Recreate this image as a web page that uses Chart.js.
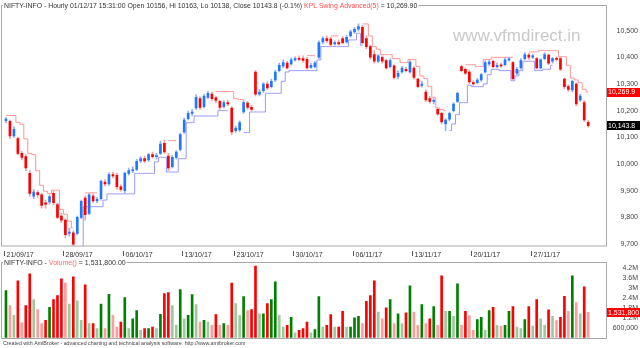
<!DOCTYPE html>
<html>
<head>
<meta charset="utf-8">
<script src="https://cdn.jsdelivr.net/npm/chart.js@4.4.0/dist/chart.umd.min.js"></script>
<style>
  html, body { margin: 0; padding: 0; background: #fff; }
  #wrap { position: relative; width: 640px; height: 348px; overflow: hidden; }
  #wrap canvas { position: absolute; left: 0; top: 0; }
</style>
</head>
<body>
<div id="wrap">
  <canvas id="priceChart" width="640" height="348"></canvas>
  <canvas id="volumeChart" width="640" height="348"></canvas>
</div>
<script>
// trading days on the chart, 3 bars a day (muhurat session only one)
const days = ['21/09/17','22/09/17','25/09/17','26/09/17','27/09/17','28/09/17','29/09/17',
  '03/10/17','04/10/17','05/10/17','06/10/17','09/10/17','10/10/17','11/10/17','12/10/17','13/10/17',
  '16/10/17','17/10/17','18/10/17','19/10/17','23/10/17','24/10/17','25/10/17','26/10/17','27/10/17',
  '30/10/17','31/10/17','01/11/17','02/11/17','03/11/17','06/11/17','07/11/17','08/11/17','09/11/17',
  '10/11/17','13/11/17','14/11/17','15/11/17','16/11/17','17/11/17','20/11/17','21/11/17','22/11/17',
  '23/11/17','24/11/17','27/11/17','28/11/17','29/11/17','30/11/17','01/12/17'];
const sessions = ['09:15', '11:15', '13:15'];
const muhurat = '19/10/17';
const dateTicks = ['21/09/17','28/09/17','06/10/17','13/10/17','23/10/17','30/10/17','06/11/17','13/11/17','20/11/17','27/11/17'];

const open = [10162,10160,10105,10095,10040,10028,9965,9880,9893,9885,
  9855,9858,9890,9848,9805,9790,9740,9742,9740,9800,
  9872,9815,9880,9862,9870,9932,9925,9960,9958,9915,
  9900,9965,9975,9980,10012,10020,10015,10035,10028,10040,
  10078,10030,9990,10025,10055,10120,10170,10190,10210,10245,
  10215,10250,10262,10248,10235,10215,10230,10210,10125,10128,
  10195,10228,10212,10345,10262,10275,10300,10290,10315,10350,
  10368,10378,10375,10390,10395,
  10395,10392,10362,10365,10400,10458,10470,10468,10450,10455,
  10470,10458,10480,10495,10505,10512,10470,10440,10410,10385,
  10400,10388,10365,10368,10328,10345,10355,10345,10360,10318,
  10295,10270,10245,10235,10205,10190,10150,10168,10200,10235,
  10365,10355,10345,10305,10305,10315,10345,10375,10385,10365,
  10370,10372,10390,10380,10340,10360,10395,10408,10400,10395,
  10360,10395,10408,10385,10395,10395,10318,10290,10278,10300,
  10240,10230,10156];
const high = [10175,10165,10140,10100,10048,10035,9975,9905,9900,9890,
  9865,9885,9900,9855,9815,9795,9760,9750,9805,9865,
  9880,9890,9888,9875,9940,9942,9968,9970,9965,9922,
  9970,9985,9990,10018,10028,10030,10040,10045,10040,10085,
  10090,10040,10032,10050,10115,10172,10198,10205,10260,10252,
  10262,10272,10270,10255,10240,10238,10240,10215,10142,10162,
  10238,10235,10220,10350,10280,10305,10308,10318,10352,10378,
  10390,10385,10398,10402,10405,
  10405,10398,10378,10385,10462,10478,10480,10475,10462,10465,
  10478,10482,10502,10512,10525,10520,10480,10445,10425,10410,
  10405,10392,10395,10372,10350,10366,10362,10388,10365,10322,
  10310,10278,10255,10245,10210,10195,10170,10195,10230,10270,
  10370,10360,10350,10312,10320,10340,10388,10390,10390,10378,
  10378,10398,10400,10385,10362,10395,10418,10415,10412,10400,
  10395,10418,10412,10400,10402,10402,10322,10298,10315,10305,
  10262,10238,10163];
const low = [10155,10095,10100,10035,10015,9975,9880,9870,9875,9835,
  9835,9850,9848,9795,9780,9725,9730,9690,9735,9795,
  9790,9810,9855,9855,9865,9918,9920,9948,9905,9898,
  9892,9958,9968,9975,10005,10005,10010,10022,10018,10035,
  10040,9975,9985,10018,10050,10115,10165,10180,10205,10205,
  10210,10245,10238,10230,10205,10210,10218,10110,10118,10122,
  10190,10205,10198,10255,10255,10268,10280,10285,10310,10345,
  10360,10355,10370,10385,10386,
  10382,10355,10358,10360,10395,10450,10455,10442,10445,10445,
  10450,10452,10475,10490,10498,10448,10432,10392,10378,10380,
  10378,10355,10360,10318,10320,10340,10345,10340,10318,10285,
  10288,10235,10228,10225,10182,10150,10125,10162,10195,10230,
  10345,10335,10300,10295,10300,10310,10340,10368,10360,10360,
  10362,10368,10385,10315,10335,10355,10390,10392,10395,10355,
  10355,10390,10372,10378,10385,10350,10282,10272,10270,10218,
  10235,10160,10138];
const close = [10168,10105,10130,10040,10025,9985,9890,9895,9885,9845,
  9850,9878,9855,9800,9790,9735,9745,9700,9800,9860,
  9810,9885,9862,9868,9935,9925,9960,9955,9915,9905,
  9965,9975,9978,10010,10020,10012,10035,10028,10030,10075,
  10045,9985,10025,10045,10110,10165,10190,10195,10250,10212,
  10255,10265,10245,10238,10212,10230,10225,10120,10135,10155,
  10230,10212,10205,10262,10270,10300,10285,10310,10345,10370,
  10380,10360,10390,10395,10392,
  10388,10360,10370,10378,10455,10470,10462,10448,10455,10450,
  10455,10475,10495,10505,10515,10455,10440,10400,10385,10405,
  10385,10360,10388,10325,10340,10360,10350,10382,10325,10290,
  10300,10240,10235,10238,10188,10158,10165,10190,10225,10265,
  10350,10340,10308,10300,10315,10335,10380,10382,10365,10370,
  10368,10390,10392,10320,10355,10388,10410,10400,10405,10360,
  10390,10410,10378,10395,10392,10355,10290,10280,10310,10225,
  10255,10165,10143.8];
const volume = [2840,1950,1360,3430,900,1950,3850,2300,1700,850,
  1050,1830,2300,2540,3550,3300,2030,3670,2230,1050,
  3200,850,850,550,2030,550,2620,1350,650,950,
  2430,550,1150,1640,450,550,550,650,550,1420,
  2660,2720,1950,750,2900,1150,1350,2600,2000,950,
  1050,950,750,1400,750,850,750,3300,2070,1350,
  2480,1640,1700,4320,1440,1440,2070,2300,3370,1350,
  650,750,1240,300,450,
  550,950,300,500,2480,650,750,1400,650,650,
  1600,650,650,1200,1300,850,2200,2540,3430,1550,
  1150,1800,2300,850,1440,850,1500,3140,1550,750,
  2000,850,1150,1880,750,3730,1600,1600,1300,3250,
  750,1600,1340,450,1100,1240,450,1640,1830,750,
  700,750,1600,1880,650,550,1100,1880,700,2300,
  1150,750,1680,1300,1040,1240,2500,1600,3730,2130,
  1440,3080,1531.8].map(v => v * 1000);

// KPL swing levels (upper = red, lower = blue), null where not plotted
const swingHigh = [10182,10182,10182,10156,10149,10094,10040,10035,9975,9920,
  9898,9890,9902,9902,9830,9812,9786,9760,null,null,
  9892,9892,9892,9892,null,null,null,null,null,null,
  null,null,null,null,null,null,null,null,null,null,
  null,10088,10088,10088,null,null,null,null,null,null,
  null,null,null,10272,10272,10272,10272,10272,10245,10242,
  10242,null,null,null,null,null,null,null,null,null,
  null,null,null,null,null,null,10406,10406,10406,null,
  null,null,10480,10480,10480,null,null,null,null,null,
  10525,10525,10480,10440,10430,10410,10410,10410,10395,10395,
  10380,10380,10392,10392,10366,10330,10320,10290,10250,10210,
  10205,10200,null,null,null,null,10372,10372,10372,10365,
  10365,10392,10392,10400,10400,10400,10400,10400,10400,null,
  null,null,10420,10420,10420,10425,10425,10425,10425,10425,
  10402,10402,10370,10322,10315,10305,10280,10269.9];
const swingLow = [null,null,null,null,null,null,null,null,null,null,
  null,null,null,null,null,null,null,null,9690,9690,
  9840,9840,9840,9840,9840,9865,9888,9888,9888,9888,
  9888,9888,9888,9965,9965,9965,9965,9965,10008,10025,
  10025,9970,9970,9970,10020,10020,10155,10155,10180,10180,
  10180,10180,10180,10180,10200,10200,10200,null,null,null,
  10118,10118,10195,10195,10195,10195,10265,10265,10265,10265,
  10310,10345,10350,10350,10350,10350,10350,10350,10350,10390,
  10440,10440,10440,10440,10440,10440,10440,10465,10465,10490,
  10445,null,null,null,null,null,null,null,null,null,
  null,null,null,null,null,null,null,null,null,null,
  null,null,10125,10150,10185,10230,10230,10295,10290,10290,
  10290,10300,10335,10355,10355,10350,10350,10350,10312,10330,
  10350,10385,10385,10385,10350,10350,10355,10355,10370,null,
  null,null,null,null,null,null,null,null];

const priceTicks = [9700, 9800, 9900, 10000, 10100, 10200, 10300, 10400, 10500];
const volumeTicks = [600000, 1200000, 1800000, 2400000, 3000000, 3600000, 4200000];

const barLabels = days.flatMap(d => (d === muhurat ? ['18:15'] : sessions).map(t => d + ' ' + t));
const labels = barLabels.concat(['', '', '', '']); // empty bars on the right edge

const FONT = '"Liberation Sans", Arial, sans-serif';
const commas = s => s.replace(/\B(?=(\d{3})+(?!\d))/g, ',');
const fmt = (v, d) => { const p = v.toFixed(d).split('.'); return commas(p[0]) + (p[1] ? '.' + p[1] : ''); };
const isUp = i => close[i] >= open[i];

function drawParts(ctx, parts, x, y) {
  parts.forEach(([text, color]) => {
    ctx.fillStyle = color;
    ctx.fillText(text, x, y);
    x += ctx.measureText(text).width;
  });
  return x;
}

function valueBox(ctx, yPix, text, bg) {
  ctx.fillStyle = bg;
  ctx.fillRect(607, Math.round(yPix - 4.5), 33, 9);
  ctx.fillStyle = '#fff';
  ctx.font = '7px ' + FONT;
  ctx.textAlign = 'left';
  ctx.textBaseline = 'middle';
  ctx.fillText(text, 608, yPix + 0.5);
}

const priceDecor = {
  id: 'priceDecor',
  beforeDatasetsDraw(chart) {
    const ctx = chart.ctx;
    ctx.save();
    ctx.font = '17px ' + FONT;
    ctx.fillStyle = '#c9c9c9';
    ctx.fillText('www.vfmdirect.in', 453, 41);
    ctx.restore();
  },
  afterDraw(chart) {
    const { ctx, scales: { x, y } } = chart;
    ctx.save();
    ctx.strokeStyle = '#a8a8a8';
    ctx.lineWidth = 1;
    ctx.strokeRect(1.5, 5.5, 605, 240.5);

    // title over the frame line
    ctx.font = '6.9px ' + FONT;
    ctx.textBaseline = 'middle';
    const parts = [
      ['NIFTY-INFO - Hourly 01/12/17 15:31:00 Open 10156, Hi 10163, Lo 10138, Close 10143.8 (-0.1%) ', '#333'],
      ['KPL Swing Advanced(5)', '#ff5050'],
      [' = ' + fmt(swingHigh[swingHigh.length - 1], 2), '#333']
    ];
    const w = parts.reduce((s, p) => s + ctx.measureText(p[0]).width, 0);
    ctx.fillStyle = '#fff';
    ctx.fillRect(3, 0, w + 2, 10);
    drawParts(ctx, parts, 4, 6);

    // date axis
    const step = x.width / labels.length;
    ctx.strokeStyle = '#555';
    ctx.font = '7px ' + FONT;
    dateTicks.forEach(d => {
      const i = barLabels.findIndex(l => l.startsWith(d));
      const px = Math.round(x.getPixelForValue(i) - step / 2) + 0.5;
      ctx.beginPath();
      ctx.moveTo(px, 251);
      ctx.lineTo(px, 256);
      ctx.stroke();
      ctx.fillStyle = '#333';
      ctx.fillText(d, px + 2, 255);
    });

    const lastSwing = swingHigh[swingHigh.length - 1];
    const lastClose = close[close.length - 1];
    valueBox(ctx, y.getPixelForValue(lastSwing), fmt(lastSwing, 1), '#ff0000');
    valueBox(ctx, y.getPixelForValue(lastClose), fmt(lastClose, 1), '#000');
    ctx.restore();
  }
};

new Chart(document.getElementById('priceChart'), {
  type: 'bar',
  data: {
    labels: labels,
    datasets: [
      {
        type: 'line', data: swingHigh, borderColor: '#ff9494', borderWidth: 1,
        pointRadius: 0, stepped: 'middle', spanGaps: false, order: 4
      },
      {
        type: 'line', data: swingLow, borderColor: '#9999ff', borderWidth: 1,
        pointRadius: 0, stepped: 'middle', spanGaps: false, order: 4
      },
      {
        data: high.map((h, i) => [low[i], h]),
        backgroundColor: high.map((h, i) => isUp(i) ? '#8fb2ff' : '#ff9a9a'),
        barThickness: 1, grouped: false, order: 3
      },
      {
        data: open.map((o, i) => [o, close[i]]),
        backgroundColor: open.map((o, i) => isUp(i) ? '#1f77ff' : '#ff0000'),
        barThickness: 2, minBarLength: 1, grouped: false, order: 2
      }
    ]
  },
  options: {
    responsive: false,
    animation: false,
    events: [],
    layout: { padding: { left: 4, right: 2, top: 5, bottom: 102 } },
    plugins: { legend: { display: false }, tooltip: { enabled: false } },
    scales: {
      x: { display: false, offset: true },
      y: {
        position: 'right',
        min: 9692.8, max: 10565.2,
        grid: { display: false, drawTicks: false },
        border: { display: false },
        afterFit: s => { s.width = 32; },
        afterBuildTicks: s => { s.ticks = priceTicks.map(v => ({ value: v })); },
        ticks: {
          crossAlign: 'far', padding: 9,
          color: '#444', font: { family: FONT, size: 7 },
          callback: v => commas(String(v))
        }
      }
    }
  },
  plugins: [priceDecor]
});

const volumeDecor = {
  id: 'volumeDecor',
  afterDraw(chart) {
    const { ctx, scales: { y } } = chart;
    ctx.save();
    ctx.strokeStyle = '#a8a8a8';
    ctx.lineWidth = 1;
    ctx.strokeRect(1.5, 262.5, 605, 76);

    ctx.font = '7px ' + FONT;
    ctx.textBaseline = 'middle';
    const lastVol = volume[volume.length - 1];
    const parts = [
      ['NIFTY-INFO - ', '#333'],
      ['Volume()', '#ff6b6b'],
      [' = ' + fmt(lastVol, 2), '#333']
    ];
    const w = parts.reduce((s, p) => s + ctx.measureText(p[0]).width, 0);
    ctx.fillStyle = '#fff';
    ctx.fillRect(3, 258, w + 2, 9);
    drawParts(ctx, parts, 4, 263);

    valueBox(ctx, y.getPixelForValue(lastVol), fmt(lastVol, 0), '#ff0000');

    ctx.font = '5.3px ' + FONT;
    ctx.fillStyle = '#444';
    ctx.textBaseline = 'middle';
    ctx.fillText('Created with AmiBroker - advanced charting and technical analysis software. http://www.amibroker.com', 3, 344);
    ctx.restore();
  }
};

new Chart(document.getElementById('volumeChart'), {
  type: 'bar',
  data: {
    labels: labels,
    datasets: [{
      data: volume,
      // green/red by candle direction, pale when volume falls from the previous bar
      backgroundColor: volume.map((v, i) => {
        const up = isUp(i);
        const strong = i === 0 || v >= volume[i - 1];
        if (up) return strong ? '#008000' : '#9fc89f';
        return strong ? '#ff0000' : '#ff9c9c';
      }),
      barThickness: 2
    }]
  },
  options: {
    responsive: false,
    animation: false,
    events: [],
    layout: { padding: { left: 4, right: 2, top: 262.5, bottom: 8.5 } },
    plugins: { legend: { display: false }, tooltip: { enabled: false } },
    scales: {
      x: { display: false, offset: true },
      y: {
        position: 'right',
        min: 0, max: 4540000,
        grid: { display: false, drawTicks: false },
        border: { display: false },
        afterFit: s => { s.width = 32; },
        afterBuildTicks: s => { s.ticks = volumeTicks.map(v => ({ value: v })); },
        ticks: {
          crossAlign: 'far', padding: 6,
          color: '#444', font: { family: FONT, size: 7 },
          callback: v => v >= 1000000 ? (v / 1000000) + 'M' : commas(String(v))
        }
      }
    }
  },
  plugins: [volumeDecor]
});
</script>
</body>
</html>
